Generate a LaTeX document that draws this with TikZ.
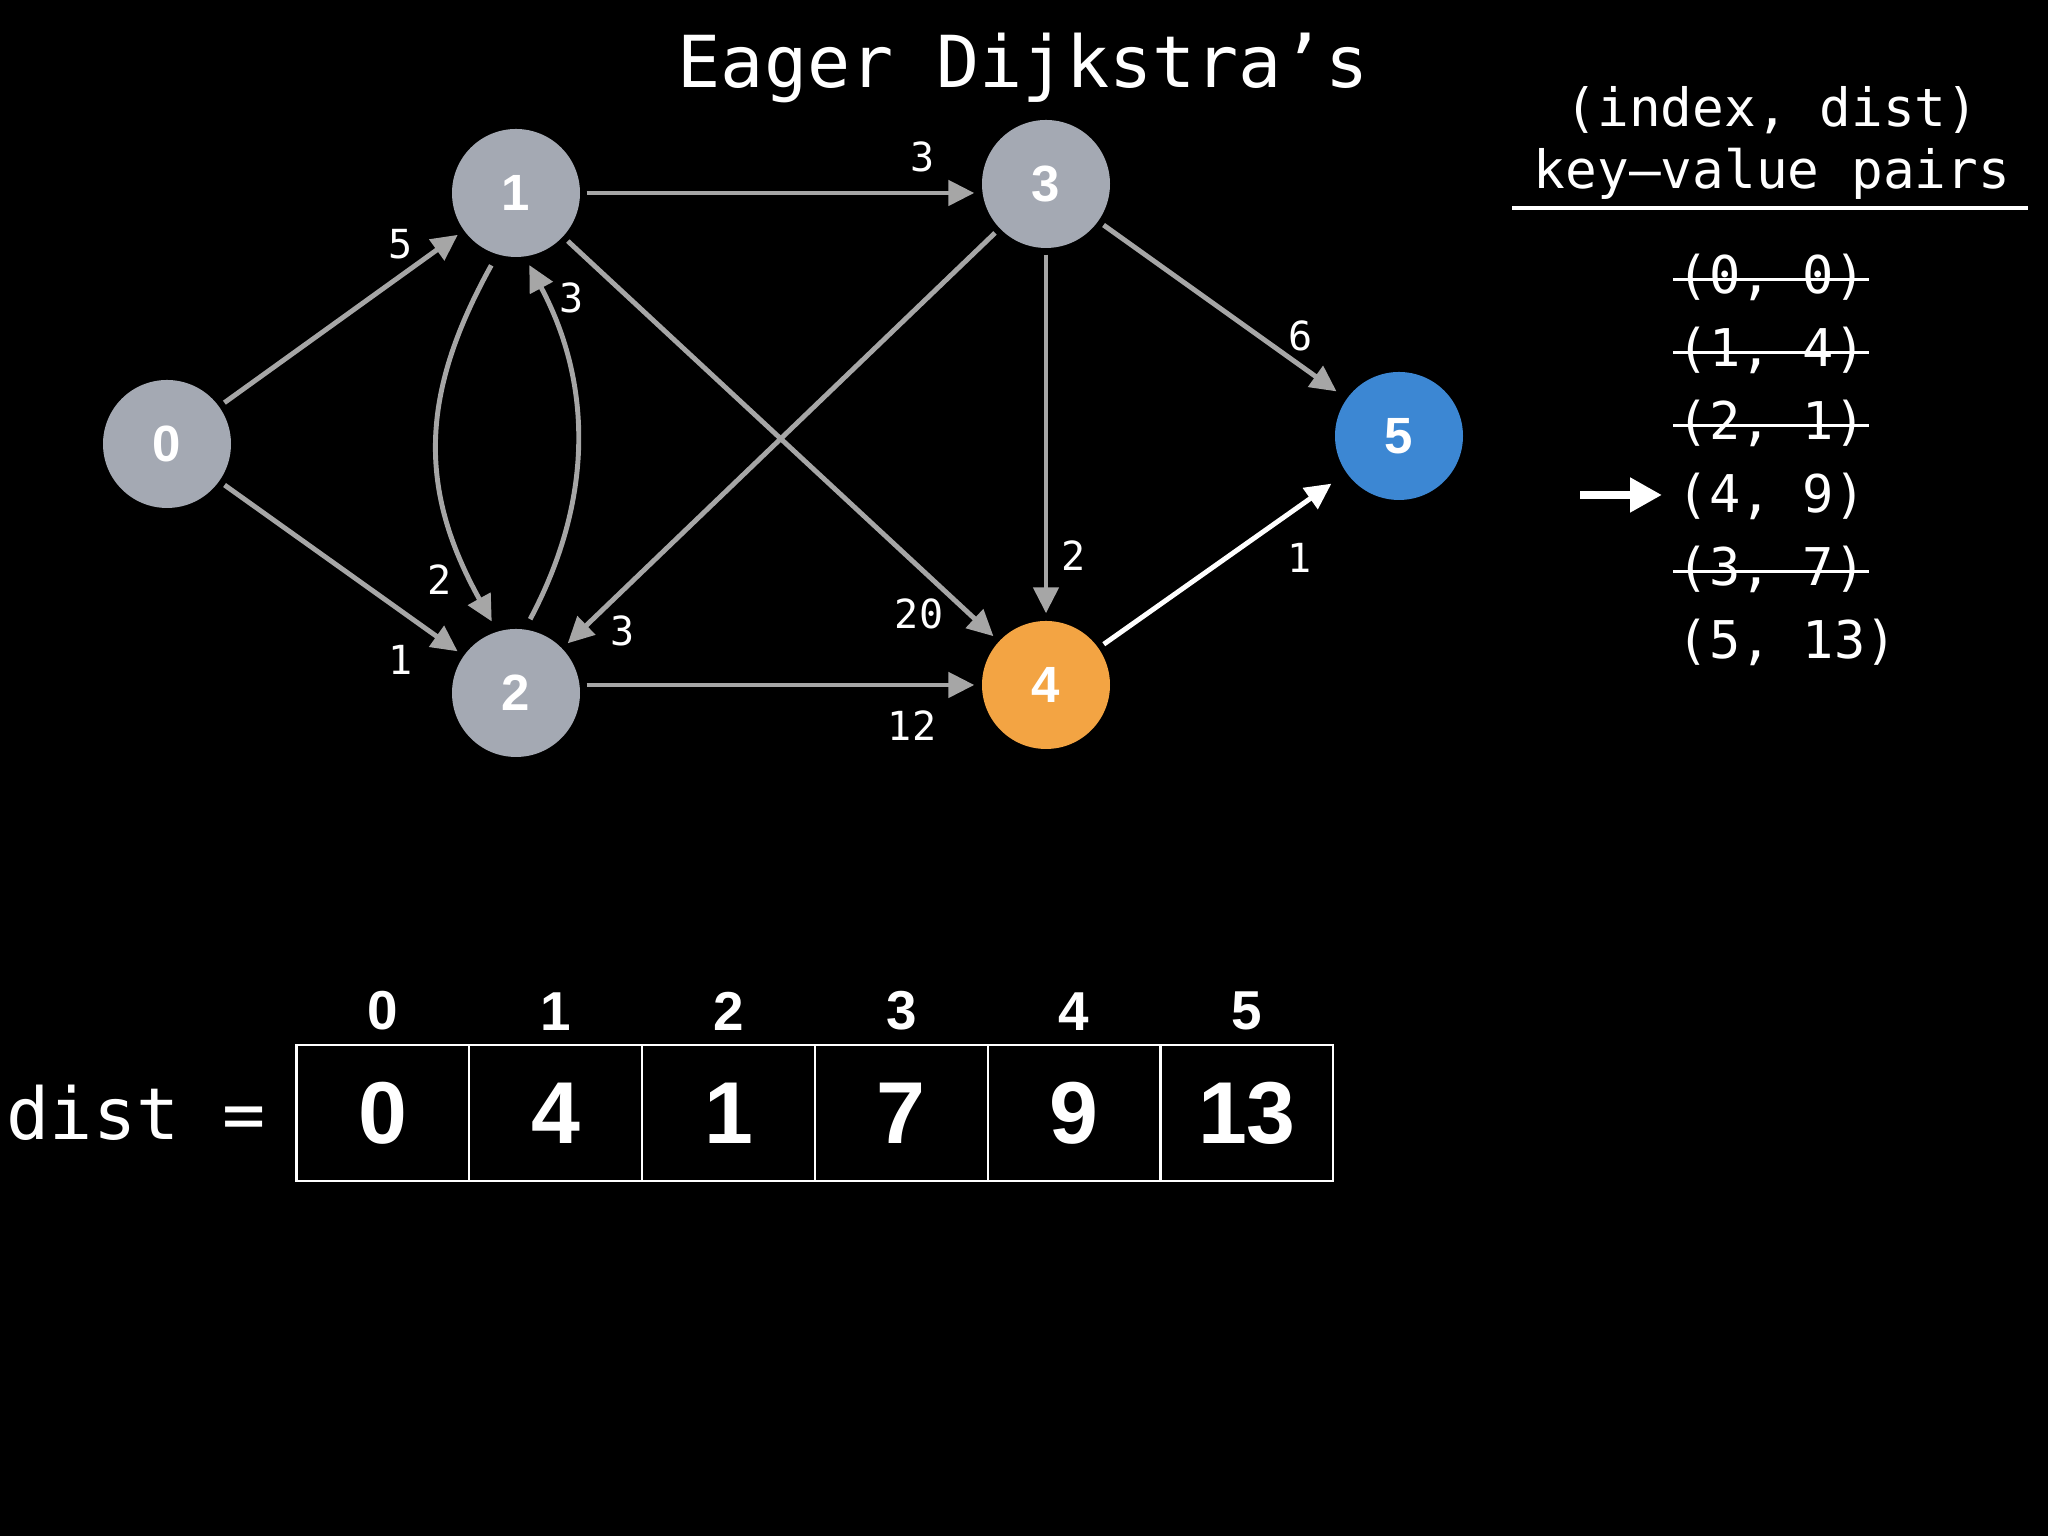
\documentclass[tikz,border=0pt]{standalone}
\usepackage{fontspec}
\setmonofont{DejaVu Sans Mono}
\setsansfont{Liberation Sans}
\usetikzlibrary{arrows.meta,positioning}
\definecolor{nodegray}{RGB}{164,169,179}
\definecolor{edgegray}{RGB}{166,166,166}
\definecolor{hotorange}{RGB}{243,164,67}
\definecolor{doneblue}{RGB}{60,135,211}
\tikzset{
  vtx/.style={circle, fill=nodegray, minimum size=12.8mm, inner sep=0pt,
              text=white, font=\sffamily\bfseries\fontsize{14.5}{17}\selectfont},
  vtxorange/.style={vtx, fill=hotorange},
  vtxblue/.style={vtx, fill=doneblue},
  link/.style={draw=edgegray, line width=1.4pt,
               -{Triangle[length=2.6mm,width=2.5mm]},
               shorten <=0.6mm, shorten >=0.7mm},
  linkhot/.style={link, draw=white},
  wlab/.style={text=white, inner sep=0pt,
               font=\ttfamily\fontsize{11.4}{13}\selectfont},
  titlelab/.style={text=white, inner sep=0pt, anchor=base,
                   font=\ttfamily\fontsize{20.4}{24}\selectfont},
  hdrlab/.style={text=white, inner sep=0pt, anchor=base,
                 font=\ttfamily\fontsize{15}{18}\selectfont},
  kvpair/.style={text=white, inner sep=0pt, anchor=base west,
                 font=\ttfamily\fontsize{14.8}{18}\selectfont},
  strikeout/.style={draw=white, line width=0.8pt},
  rule/.style={draw=white, line width=1.3pt},
  pointer/.style={draw=white, line width=2.3pt,
                  -{Triangle[length=3.2mm,width=3.3mm]}, shorten >=1.5mm},
  cellbox/.style={draw=white, line width=0.6pt, minimum width=17.28mm,
                  minimum height=13.6mm, inner sep=0pt, text=white,
                  font=\sffamily\bfseries\fontsize{25}{30}\selectfont},
  idxlab/.style={text=white, inner sep=0pt,
                 font=\sffamily\bfseries\fontsize{15.6}{18}\selectfont},
  distlab/.style={text=white, inner sep=0pt,
                  font=\ttfamily\fontsize{20.4}{24}\selectfont},
}

\begin{document}
\begin{tikzpicture}[x=1cm,y=1cm]
  \fill[black] (0,0) rectangle (20.48,15.36);
  \path[use as bounding box] (0,0) rectangle (20.48,15.36);

  \node[titlelab] (title) at (10.23,14.485) {Eager Dijkstra’s};

  \node[vtx] (n0) at (1.67,10.92) {0};
  \node[vtx] (n1) at (5.16,13.43) {1};
  \node[vtx] (n2) at (5.16,8.43) {2};
  \node[vtx] (n3) at (10.46,13.52) {3};
  \node[vtxorange] (n4) at (10.46,8.51) {4};
  \node[vtxblue] (n5) at (13.99,11.00) {5};

  \draw[link] (n0) -- (n1);
  \draw[link] (n0) -- (n2);
  \draw[link] (n1.east) -- (n1.east -| n3.west);
  \draw[link, shorten <=1.2mm, shorten >=1.1mm]
    (n1.-107) to[bend right=29, looseness=1.1] (n2.107);
  \draw[link, shorten <=1.1mm, shorten >=0.9mm]
    (n2.82) to[bend right=28, looseness=1.0] (n1.-82);
  \draw[link] (n1) -- (n4);
  \draw[link] (n3) -- (n2);
  \draw[link] (n4.west -| n2.east) -- (n4.west);
  \draw[link] (n3) -- (n4);
  \draw[link, shorten >=1.2mm] (n3) -- (n5);
  \draw[linkhot, shorten >=1.8mm] (n4) -- (n5);

  \node[wlab] (w01) at (4.01,12.92) {5};
  \node[wlab] (w02) at (4.01,8.76) {1};
  \node[wlab] (w13) at (9.23,13.79) {3};
  \node[wlab] (w12) at (4.40,9.56) {2};
  \node[wlab] (w21) at (5.72,12.38) {3};
  \node[wlab] (w14) at (9.19,9.22) {20};
  \node[wlab] (w32) at (6.23,9.05) {3};
  \node[wlab] (w24) at (9.12,8.10) {12};
  \node[wlab] (w34) at (10.74,9.80) {2};
  \node[wlab] (w35) at (13.01,12.00) {6};
  \node[wlab] (w45) at (13.00,9.78) {1};

  \node[hdrlab] (hdrA) at (17.72,14.09) {(index, dist)};
  \node[hdrlab] (hdrB) at (17.72,13.47) {key–value pairs};
  \draw[rule] (15.12,13.28) -- (20.28,13.28);

  \node[kvpair] (p0) at (16.77,12.42) {(0, 0)};
  \node[kvpair] (p1) at (16.77,11.69) {(1, 4)};
  \node[kvpair] (p2) at (16.77,10.96) {(2, 1)};
  \node[kvpair] (p3) at (16.77,10.23) {(4, 9)};
  \node[kvpair] (p4) at (16.77,9.50) {(3, 7)};
  \node[kvpair] (p5) at (16.77,8.77) {(5, 13)};
  \draw[strikeout] ([shift={(-0.04,0.145)}]p0.base west) -- ([shift={(0.03,0.145)}]p0.base east);
  \draw[strikeout] ([shift={(-0.04,0.145)}]p1.base west) -- ([shift={(0.03,0.145)}]p1.base east);
  \draw[strikeout] ([shift={(-0.04,0.145)}]p2.base west) -- ([shift={(0.03,0.145)}]p2.base east);
  \draw[strikeout] ([shift={(-0.04,0.145)}]p4.base west) -- ([shift={(0.03,0.145)}]p4.base east);
  \coordinate (ptr) at (15.80,10.41);
  \draw[pointer] (ptr) -- (ptr -| p3.west);

  \node[cellbox] (c0) at (3.829,4.23) {0};
  \node[cellbox] (c1) at (5.557,4.23) {4};
  \node[cellbox] (c2) at (7.285,4.23) {1};
  \node[cellbox] (c3) at (9.013,4.23) {7};
  \node[cellbox] (c4) at (10.741,4.23) {9};
  \node[cellbox] (c5) at (12.469,4.23) {13};
  \node[idxlab, above=1.3mm of c0] (i0) {0};
  \node[idxlab, above=1.3mm of c1] (i1) {1};
  \node[idxlab, above=1.3mm of c2] (i2) {2};
  \node[idxlab, above=1.3mm of c3] (i3) {3};
  \node[idxlab, above=1.3mm of c4] (i4) {4};
  \node[idxlab, above=1.3mm of c5] (i5) {5};
  \node[distlab, left=2.9mm of c0] (distname) {dist =};
\end{tikzpicture}
\end{document}
